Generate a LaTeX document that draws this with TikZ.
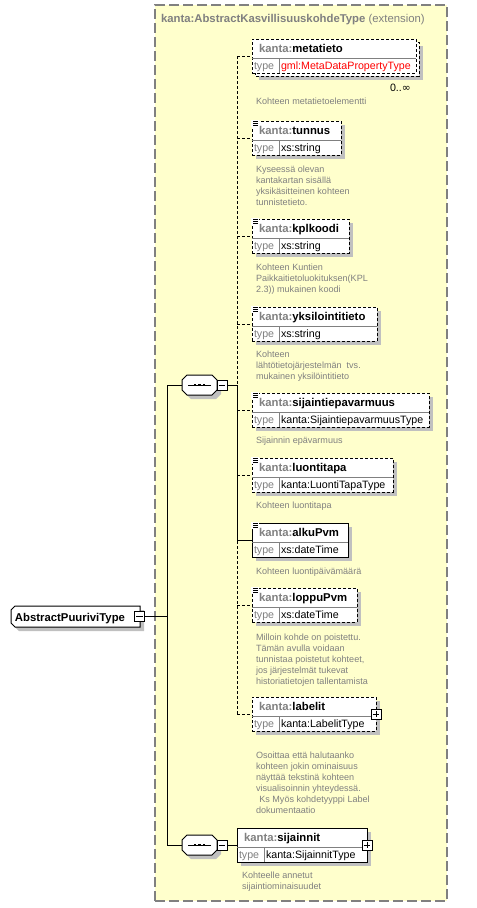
\documentclass[tikz,border=0pt]{standalone}
\usepackage{fontspec}
\setmainfont{Liberation Sans}
\newfontfamily\dejavu{DejaVu Sans}
\usetikzlibrary{calc}
\definecolor{bgyellow}{RGB}{255,255,204}
\definecolor{txtgray}{RGB}{128,128,128}
\definecolor{shadowgray}{RGB}{192,192,192}
\definecolor{bordergray}{RGB}{128,128,128}

\newcommand\elemshadow[3]{\fill[shadowgray] ({#1+4},{#2-13}) rectangle ({#3+4},{#2+21});}
\newcommand\elicon[2]{%
  \fill[white] ({#1-1},{#2-18}) rectangle ({#1+7},{#2-11.5});
  \draw[line width=0.6pt] ({#1+1},{#2-16.5}) -- ({#1+6},{#2-16.5});
  \draw[line width=0.6pt] ({#1+1},{#2-14.5}) -- ({#1+6},{#2-14.5});
  \draw[line width=0.6pt] ({#1+1},{#2-12.5}) -- ({#1+6},{#2-12.5});}
% #1 id, #2 left, #3 cy, #4 right, #5 name, #6 type, #7 line style
\newcommand\elem[7]{%
  \node[elembox,#7,minimum width={(#4-#2)*0.75pt}] (#1) at (#2,#3) {};
  \draw[divider] (#2,{#3+2}) -- (#4,{#3+2});
  \draw[divider] ({#2+27},{#3+2}) -- ({#2+27},{#3+17});
  \node[namefont,anchor=base west] (#1-name) at ({#2+7},{#3-4}) {\textcolor{txtgray}{kanta:}#5};
  \node[typefont,anchor=base west,text=txtgray] (#1-tl) at ({#2+2},{#3+13}) {type};
  \node[typefont,anchor=base west] (#1-type) at ({#2+29},{#3+13}) {#6};}
\newcommand\desc[4]{\node[descfont] (#1) at (#2,{#3-8}) {\rule{0pt}{6pt}#4};}
\newcommand\octa[2]{%
  \begin{scope}[shift={({#1+4},{#2+4})}]
    \fill[shadowgray] (-17.5,-5) -- (-12.5,-10) -- (12.5,-10) -- (17.5,-5) -- (17.5,5) -- (12.5,10) -- (-12.5,10) -- (-17.5,5) -- cycle;
  \end{scope}
  \begin{scope}[shift={(#1,#2)}]
    \draw[line width=0.75pt,fill=white] (-17.5,-5) -- (-12.5,-10) -- (12.5,-10) -- (17.5,-5) -- (17.5,5) -- (12.5,10) -- (-12.5,10) -- (-17.5,5) -- cycle;
    \draw[line width=0.75pt] (-11.5,0) -- (11.5,0);
    \fill (-5.7,-1.3) rectangle (-3.1,1.3);
    \fill (-1.3,-1.3) rectangle (1.3,1.3);
    \fill (3.1,-1.3) rectangle (5.7,1.3);
  \end{scope}}

\begin{document}
\begin{tikzpicture}[x=0.75pt,y=-0.75pt,
  every node/.style={inner sep=0pt,outer sep=0pt},
  optline/.style={dash pattern=on 2.25pt off 1.5pt},
  reqline/.style={},
  elembox/.style={draw=black,fill=white,line width=0.75pt,rectangle,minimum height=25.5pt,anchor=west},
  divider/.style={draw=txtgray,line width=0.75pt},
  conn/.style={line width=0.75pt},
  namefont/.style={font=\fontsize{8.5}{10}\selectfont\bfseries},
  typefont/.style={font=\fontsize{8}{10}\selectfont},
  descfont/.style={font=\fontsize{6.8}{8.25}\selectfont,text=txtgray,align=left,anchor=north west},
  pmbox/.style={draw=black,fill=white,line width=0.75pt,rectangle,minimum size=7.5pt},
  minusbox/.style={pmbox,path picture={\draw[line width=0.75pt] ([xshift=1.3pt]path picture bounding box.west) -- ([xshift=-1.3pt]path picture bounding box.east);}},
  plusbox/.style={pmbox,path picture={\draw[line width=0.75pt] ([xshift=1.3pt]path picture bounding box.west) -- ([xshift=-1.3pt]path picture bounding box.east); \draw[line width=0.75pt] ([yshift=-1.3pt]path picture bounding box.north) -- ([yshift=1.3pt]path picture bounding box.south);}},
  extbox/.style={draw=bordergray,fill=bgyellow,line width=1.1pt,dash pattern=on 7.5pt off 3pt,rectangle,anchor=north west,minimum width=219pt,minimum height=672pt},
  anchorbox/.style={rectangle,minimum width=26.25pt,minimum height=15pt}
]
\useasboundingbox (0,0) rectangle (476,908);

% extension container
\node[extbox] (ext) at (155,5) {};
\node[anchor=base west,font=\fontsize{8.5}{10}\selectfont,text=txtgray] (title) at (161,22) {\textbf{kanta:AbstractKasvillisuuskohdeType} (extension)};

% root type
\fill[shadowgray] (15,614) -- (19,610) -- (144,610) -- (144,631) -- (19,631) -- (15,627) -- cycle;
\draw[line width=0.75pt,fill=white] (11,610) -- (15,606) -- (140,606) -- (140,627) -- (15,627) -- (11,623) -- cycle;
\node[namefont,anchor=base west] (root) at (15,621) {AbstractPuuriviType};
\node[minusbox] (rootpm) at (139.5,616.5) {};

% sequences
\octa{199.5}{385}
\node[anchorbox] (seq1) at (199.5,385) {};
\node[minusbox] (sm1) at (222,385) {};
\octa{199.5}{845}
\node[anchorbox] (seq2) at (199.5,845) {};
\node[minusbox] (sm2) at (222,845) {};

% metatieto (stacked, 0..inf)
\fill[shadowgray] (259,46) rectangle (423,80);
\draw[line width=0.75pt,optline,fill=white] (255,42) rectangle (419,76);
\elem{metatieto}{252}{56}{416}{metatieto}{\textcolor{red}{gml:MetaDataPropertyType}}{optline}
\node[typefont,anchor=base west] (mult) at (390,91) {0..{\dejavu ∞}};
\desc{d-metatieto}{256}{104}{Kohteen metatietoelementti}

% tunnus
\elemshadow{252}{138}{341}
\elem{tunnus}{252}{138}{341}{tunnus}{xs:string}{optline}
\elicon{252}{138}
\desc{d-tunnus}{256}{172}{Kyseessä olevan\\kantakartan sisällä\\yksikäsitteinen kohteen\\tunnistetieto.}

% kplkoodi
\elemshadow{252}{236}{349}
\elem{kplkoodi}{252}{236}{349}{kplkoodi}{xs:string}{optline}
\elicon{252}{236}
\desc{d-kplkoodi}{256}{270}{Kohteen Kuntien\\Paikkaitietoluokituksen(KPL\\2.3)) mukainen koodi}

% yksilointitieto
\elemshadow{252}{324}{377}
\elem{yksilointitieto}{252}{324}{377}{yksilointitieto}{xs:string}{optline}
\elicon{252}{324}
\desc{d-yksilointitieto}{256}{357}{Kohteen\\lähtötietojärjestelmän\ \ tvs.\\mukainen yksilöintitieto}

% sijaintiepavarmuus
\elemshadow{252}{410}{429}
\elem{sijaintiepavarmuus}{252}{410}{429}{sijaintiepavarmuus}{kanta:SijaintiepavarmuusType}{optline}
\elicon{252}{410}
\desc{d-sijaintiepavarmuus}{256}{443}{Sijainnin epävarmuus}

% luontitapa
\elemshadow{252}{475}{393}
\elem{luontitapa}{252}{475}{393}{luontitapa}{kanta:LuontiTapaType}{optline}
\elicon{252}{475}
\desc{d-luontitapa}{256}{508}{Kohteen luontitapa}

% alkuPvm (mandatory)
\elemshadow{252}{540}{348}
\elem{alkuPvm}{252}{540}{348}{alkuPvm}{xs:dateTime}{reqline}
\elicon{252}{540}
\desc{d-alkuPvm}{256}{574}{Kohteen luontipäivämäärä}

% loppuPvm
\elemshadow{252}{605}{357}
\elem{loppuPvm}{252}{605}{357}{loppuPvm}{xs:dateTime}{optline}
\elicon{252}{605}
\desc{d-loppuPvm}{256}{640}{Milloin kohde on poistettu.\\Tämän avulla voidaan\\tunnistaa poistetut kohteet,\\jos järjestelmät tukevat\\historiatietojen tallentamista}

% labelit
\elemshadow{252}{714}{376}
\elem{labelit}{252}{714}{376}{labelit}{kanta:LabelitType}{optline}
\node[plusbox] (labelit-pm) at (labelit.east) {};
\desc{d-labelit}{256}{758}{Osoittaa että halutaanko\\kohteen jokin ominaisuus\\näyttää tekstinä kohteen\\visualisoinnin yhteydessä.\\\hspace*{2.5pt}Ks Myös kohdetyyppi Label\\dokumentaatio}

% sijainnit
\elemshadow{237}{845}{367}
\elem{sijainnit}{237}{845}{367}{sijainnit}{kanta:SijainnitType}{reqline}
\node[plusbox] (sijainnit-pm) at (sijainnit.east) {};
\desc{d-sijainnit}{242}{878}{Kohteelle annetut\\sijaintiominaisuudet}

% connectors
\coordinate (bar) at (237,0);
\coordinate (lbar) at (167,0);
\draw[conn] (rootpm.east) -- (lbar |- rootpm.east);
\draw[conn] (seq1.west) -- (lbar |- seq1.west) -- (lbar |- seq2.west) -- (seq2.west);
\draw[conn] (sm1.east) -- (bar |- sm1.east);
\draw[conn] (sm2.east) -- (sijainnit.west);
\draw[conn,optline] (bar |- metatieto.west) -- (bar |- labelit.west);
\draw[conn] (bar |- sm1.east) -- (bar |- alkuPvm.west);
\foreach \e in {metatieto,tunnus,kplkoodi,yksilointitieto,sijaintiepavarmuus,luontitapa,loppuPvm,labelit}
  \draw[conn,optline] (bar |- \e.west) -- (\e.west);
\draw[conn] (bar |- alkuPvm.west) -- (alkuPvm.west);
\end{tikzpicture}
\end{document}
